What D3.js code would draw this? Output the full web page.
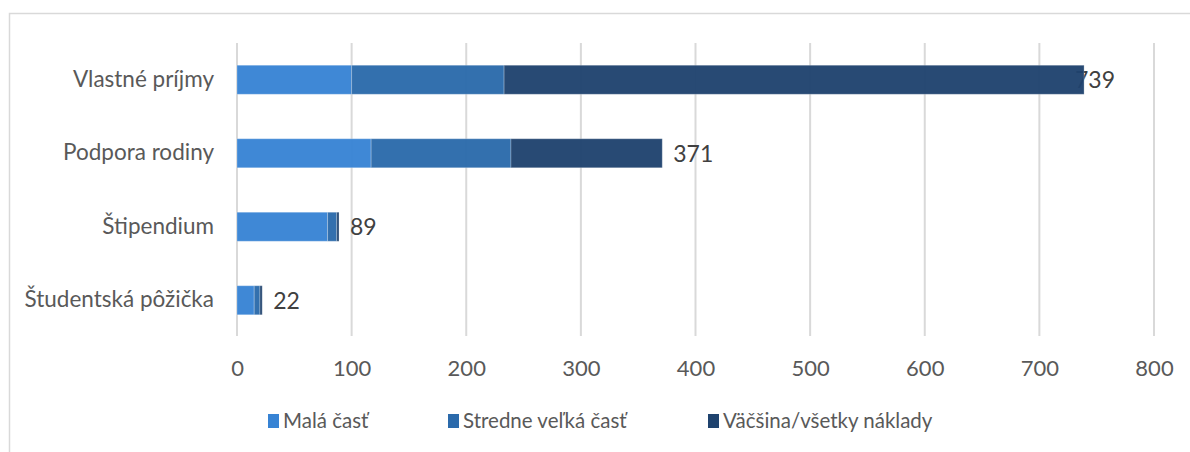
<!DOCTYPE html>
<html>
<head>
<meta charset="utf-8">
<script src="https://cdn.jsdelivr.net/npm/d3@7"></script>
<style>
  body { margin: 0; background: #fff; }
  text { font-family: Lato, 'Open Sans', sans-serif; }
</style>
</head>
<body>
<svg></svg>
<script>
// data

const categories = ['Vlastné príjmy', 'Podpora rodiny', 'Štipendium', 'Študentská pôžička'];
const seriesNames = ['Malá časť', 'Stredne veľká časť', 'Väčšina/všetky náklady'];
const mala = [100, 117, 79, 15];
const stredne = [133, 122, 8, 5];
const vacsina = [506, 132, 2, 2];
const totals = [739, 371, 89, 22];
const xTicks = [0, 100, 200, 300, 400, 500, 600, 700, 800];
const colors = ['#3783d4', '#2b6aab', '#1f436e'];

const W = 1190, H = 452;
const font = "Lato, 'Open Sans', sans-serif";

const svg = d3.select('svg')
  .attr('width', W)
  .attr('height', H);

// frame
svg.append('rect')
  .attr('x', 9.5).attr('y', 13.5)
  .attr('width', 1200).attr('height', 460)
  .style('fill', '#fff')
  .style('stroke', '#d9d9d9')
  .style('stroke-width', 1.5);

const plot = { left: 237, right: 1154, top: 43, bottom: 337 };

const x = d3.scaleLinear().domain([0, 800]).range([plot.left, plot.right]);
const y = d3.scaleBand().domain(categories)
  .range([plot.top, plot.bottom])
  .paddingInner(0.605)
  .paddingOuter(0.3025);

// gridlines
svg.append('g').selectAll('line')
  .data(xTicks)
  .enter().append('line')
    .attr('x1', d => x(d)).attr('x2', d => x(d))
    .attr('y1', plot.top).attr('y2', plot.bottom - 1)
    .style('stroke', '#d9d9d9')
    .style('stroke-width', 2);

// x tick labels
const xAxis = d3.axisBottom(x).tickValues(xTicks).tickSize(0).tickPadding(0);
const xAxisG = svg.append('g')
  .attr('transform', `translate(0,${plot.bottom + 23})`)
  .call(xAxis);
xAxisG.select('.domain').remove();
xAxisG.selectAll('text')
  .style('font-family', font)
  .style('font-size', '22px')
  .style('fill', '#595959');

// category labels
const yAxis = d3.axisLeft(y).tickSize(0).tickPadding(0);
const yAxisG = svg.append('g')
  .attr('transform', `translate(214,0)`)
  .call(yAxis);
yAxisG.select('.domain').remove();
yAxisG.selectAll('text')
  .style('font-family', font)
  .style('font-size', '22.5px')
  .style('fill', '#595959');

// total labels (behind bars)
svg.append('g').selectAll('text')
  .data(totals)
  .enter().append('text')
    .attr('x', d => Math.min(x(d) + 11, plot.right - 79))
    .attr('y', (d, i) => y(categories[i]) + y.bandwidth() / 2)
    .attr('dy', '0.38em')
    .style('font-size', '23px')
    .style('fill', '#404040')
    .text(d => d);

// stacked bars
const rows = categories.map((c, i) => ({ cat: c, s0: mala[i], s1: stredne[i], s2: vacsina[i] }));
const stack = d3.stack().keys(['s0', 's1', 's2'])(rows);

svg.append('g').selectAll('g')
  .data(stack)
  .enter().append('g')
    .style('fill', (d, i) => colors[i])
    .style('fill-opacity', 0.96)
  .selectAll('rect')
  .data(d => d)
  .enter().append('rect')
    .attr('x', d => x(d[0]))
    .attr('y', d => y(d.data.cat))
    .attr('width', d => x(d[1]) - x(d[0]))
    .attr('height', y.bandwidth())
    .style('stroke', 'rgba(255,255,255,0.25)')
    .style('stroke-width', 1);

// legend
const legendX = [268, 448, 708];
const legendG = svg.append('g').attr('transform', 'translate(0,421)');
legendG.selectAll('g')
  .data(seriesNames)
  .enter().append('g')
    .each(function(d, i) {
      const g = d3.select(this);
      g.append('rect')
        .attr('x', legendX[i]).attr('y', -7)
        .attr('width', 11).attr('height', 14)
        .style('fill', colors[i]);
      g.append('text')
        .attr('x', legendX[i] + 15)
        .attr('dy', '0.36em')
        .style('font-size', '20.5px')
        .style('fill', '#595959')
        .text(d);
    });
</script>
</body>
</html>
